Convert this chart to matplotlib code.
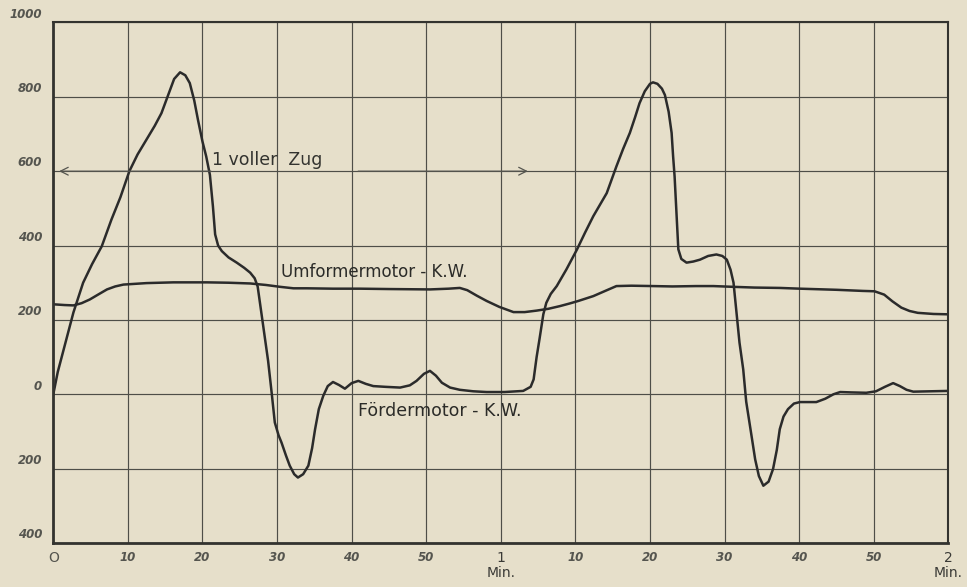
import matplotlib.pyplot as plt
import matplotlib.transforms as mtransforms

# Fördermotor - K.W. (time in seconds, power in kW)
foerder_t = [0, 0.6, 1.3, 2.7, 4.0, 5.2, 6.5, 7.8, 9.0, 10.2, 11.3, 12.5, 13.6, 14.5,
             15.4, 16.2, 17.0, 17.7, 18.3, 18.9, 19.4, 20.0, 20.5, 21.0, 21.4, 21.7,
             22.1, 22.6, 23.5, 24.6, 25.6, 26.4, 27.0, 27.4, 27.9, 28.4, 28.8, 29.3,
             29.7, 30.2, 30.6, 31.2, 31.7, 32.3, 32.8, 33.5, 34.2, 34.7, 35.1, 35.6,
             36.2, 36.8, 37.5, 38.3, 39.1, 40.0, 40.9, 41.9, 42.9, 44.5, 46.5, 47.8,
             48.7, 49.7, 50.5, 51.3, 52.1, 53.2, 54.5, 56.3, 58.1, 60.5, 63.0, 64.0,
             64.4, 64.8, 65.2, 65.7, 66.1, 66.7, 67.5, 68.8, 70.2, 71.3, 72.4, 73.3,
             74.2, 75.5, 76.4, 77.3, 78.0, 78.6, 79.3, 80.0, 80.4, 81.0, 81.6, 82.0,
             82.5, 82.9, 83.1, 83.3, 83.6, 83.8, 84.2, 84.9, 85.8, 86.7, 87.8, 88.9,
             89.7, 90.3, 90.8, 91.2, 91.6, 92.0, 92.5, 92.9, 93.2, 93.6, 94.1, 94.6,
             95.2, 95.9, 96.5, 97.0, 97.4, 97.9, 98.5, 99.3, 100.1, 101.5, 102.3,
             103.5, 104.6, 105.5, 107.0, 109.0, 110.3, 111.5, 112.6, 113.5, 114.4,
             115.3, 117.5, 120]
foerder_kw = [0, 60, 113, 220, 300, 350, 398, 470, 530, 600, 645, 685, 722, 756,
              805, 848, 866, 858, 837, 790, 738, 680, 640, 590, 506, 430,
              400, 385, 368, 354, 340, 327, 312, 290, 219, 150, 90, 0,
              -76, -110, -130, -165, -192, -215, -224, -215, -192, -145, -94, -40,
              -4, 22, 33, 25, 15, 30, 36, 28, 22, 20, 18, 24,
              36, 55, 63, 50, 31, 18, 12, 8, 6, 6, 9, 20,
              40, 100, 150, 215, 246, 270, 291, 336, 389, 435, 479, 510,
              541, 613, 660, 703, 745, 783, 815, 835, 839, 835, 822, 805,
              760, 703, 640, 586, 470, 390, 364, 354, 357, 362, 372, 376,
              372, 362, 335, 300, 219, 139, 67, -20, -58, -110, -175, -220,
              -246, -235, -201, -150, -94, -60, -40, -25, -21, -21, -21,
              -12, 0, 6, 5, 4, 8, 20, 30, 22, 12,
              7, 8, 9]

# Umformermotor - K.W.
umformer_t = [0, 1.5, 2.7, 3.8, 4.9, 6.0, 7.2, 8.3, 9.4, 12.5, 16.1, 20.6, 23.5, 26.4,
              28.5, 30.4, 32.2, 34.0, 37.5, 41.1, 45.0, 50.5, 53.0, 54.5, 55.5, 56.8,
              58.1, 59.8, 61.7, 63.2, 64.8, 66.4, 67.9, 69.2, 70.4, 72.4, 74.0, 75.5,
              77.5, 80.4, 83.0, 86.2, 88.5, 91.1, 94.0, 97.4, 100.1, 105.0, 108.5,
              110.1, 111.4, 112.5, 113.7, 114.8, 115.9, 118.0, 120]
umformer_kw = [242, 240, 239, 245, 255, 268, 282, 290, 295, 299, 301, 301, 300, 298,
               294, 289, 285, 285, 284, 284, 283, 282, 284, 286, 280, 265,
               251, 235, 221, 221, 225, 230, 237, 244, 251, 264, 278, 291,
               292, 291, 290, 291, 291, 289, 287, 286, 284, 281, 278,
               277, 268, 250, 233, 224, 219, 216, 215]

x_ticks = [0, 10, 20, 30, 40, 50, 60, 70, 80, 90, 100, 110, 120]
x_labels = ['O', '10', '20', '30', '40', '50', '1\nMin.', '10', '20', '30', '40', '50', '2\nMin.']
y_ticks = [-400, -200, 0, 200, 400, 600, 800, 1000]
y_labels = ['400', '200', '0', '200', '400', '600', '800', '1000']

paper = '#e6dfca'
ink = '#2b2b2b'

fig = plt.figure(figsize=(9.67, 5.87), dpi=100, facecolor=paper)
ax = fig.add_axes([0.0551, 0.075, 0.9256, 0.8867])
ax.set_facecolor(paper)

ax.plot(foerder_t, foerder_kw, color=ink, lw=1.8, solid_joinstyle='round')
ax.plot(umformer_t, umformer_kw, color=ink, lw=1.8, solid_joinstyle='round')

ax.set_xlim(0, 120)
ax.set_ylim(-400, 1000)
ax.set_xticks(x_ticks)
ax.set_yticks(y_ticks)
ax.set_xticklabels(x_labels)
ax.set_yticklabels(y_labels)
ax.grid(True, color='#4e4e48', lw=0.85)
ax.tick_params(length=0, pad=6, colors='#555550')
ax.tick_params(axis='y', pad=8)

for lab in ax.get_yticklabels():
    lab.set_fontsize(8.5)
    lab.set_fontstyle('italic')
    lab.set_fontweight('bold')
    lab.set_color('#55554f')
    lab.set_transform(lab.get_transform() + mtransforms.ScaledTranslation(0, 7 / 72, fig.dpi_scale_trans))

for i, lab in enumerate(ax.get_xticklabels()):
    lab.set_color('#55554f')
    if 'Min' in x_labels[i]:
        lab.set_fontsize(10)
        lab.set_linespacing(1.1)
        lab.set_color('#3a3a36')
    elif x_labels[i] == 'O':
        lab.set_fontsize(10)
    else:
        lab.set_fontsize(8.5)
        lab.set_fontstyle('italic')
        lab.set_fontweight('bold')

for side in ['left', 'bottom']:
    ax.spines[side].set_linewidth(2.0)
    ax.spines[side].set_color('#33332f')
for side in ['top', 'right']:
    ax.spines[side].set_linewidth(1.5)
    ax.spines[side].set_color('#33332f')

# 1 voller Zug arrow
ax.annotate('', xy=(0.4, 600), xytext=(21.5, 600),
            arrowprops=dict(arrowstyle='->', color='#55554f', lw=0.9, mutation_scale=14))
ax.annotate('', xy=(64.0, 600), xytext=(40.5, 600),
            arrowprops=dict(arrowstyle='->', color='#55554f', lw=0.9, mutation_scale=14))
ax.text(21.3, 630, '1 voller  Zug', fontsize=12.5, color='#33332f', va='center', ha='left')

ax.text(30.5, 330, 'Umformermotor - K.W.', fontsize=12, color='#2b2b28', va='center', ha='left')
ax.text(40.8, -45, 'Fördermotor - K.W.', fontsize=12.5, color='#2b2b28', va='center', ha='left')

fig.savefig('out.png', dpi=100, facecolor=paper)
